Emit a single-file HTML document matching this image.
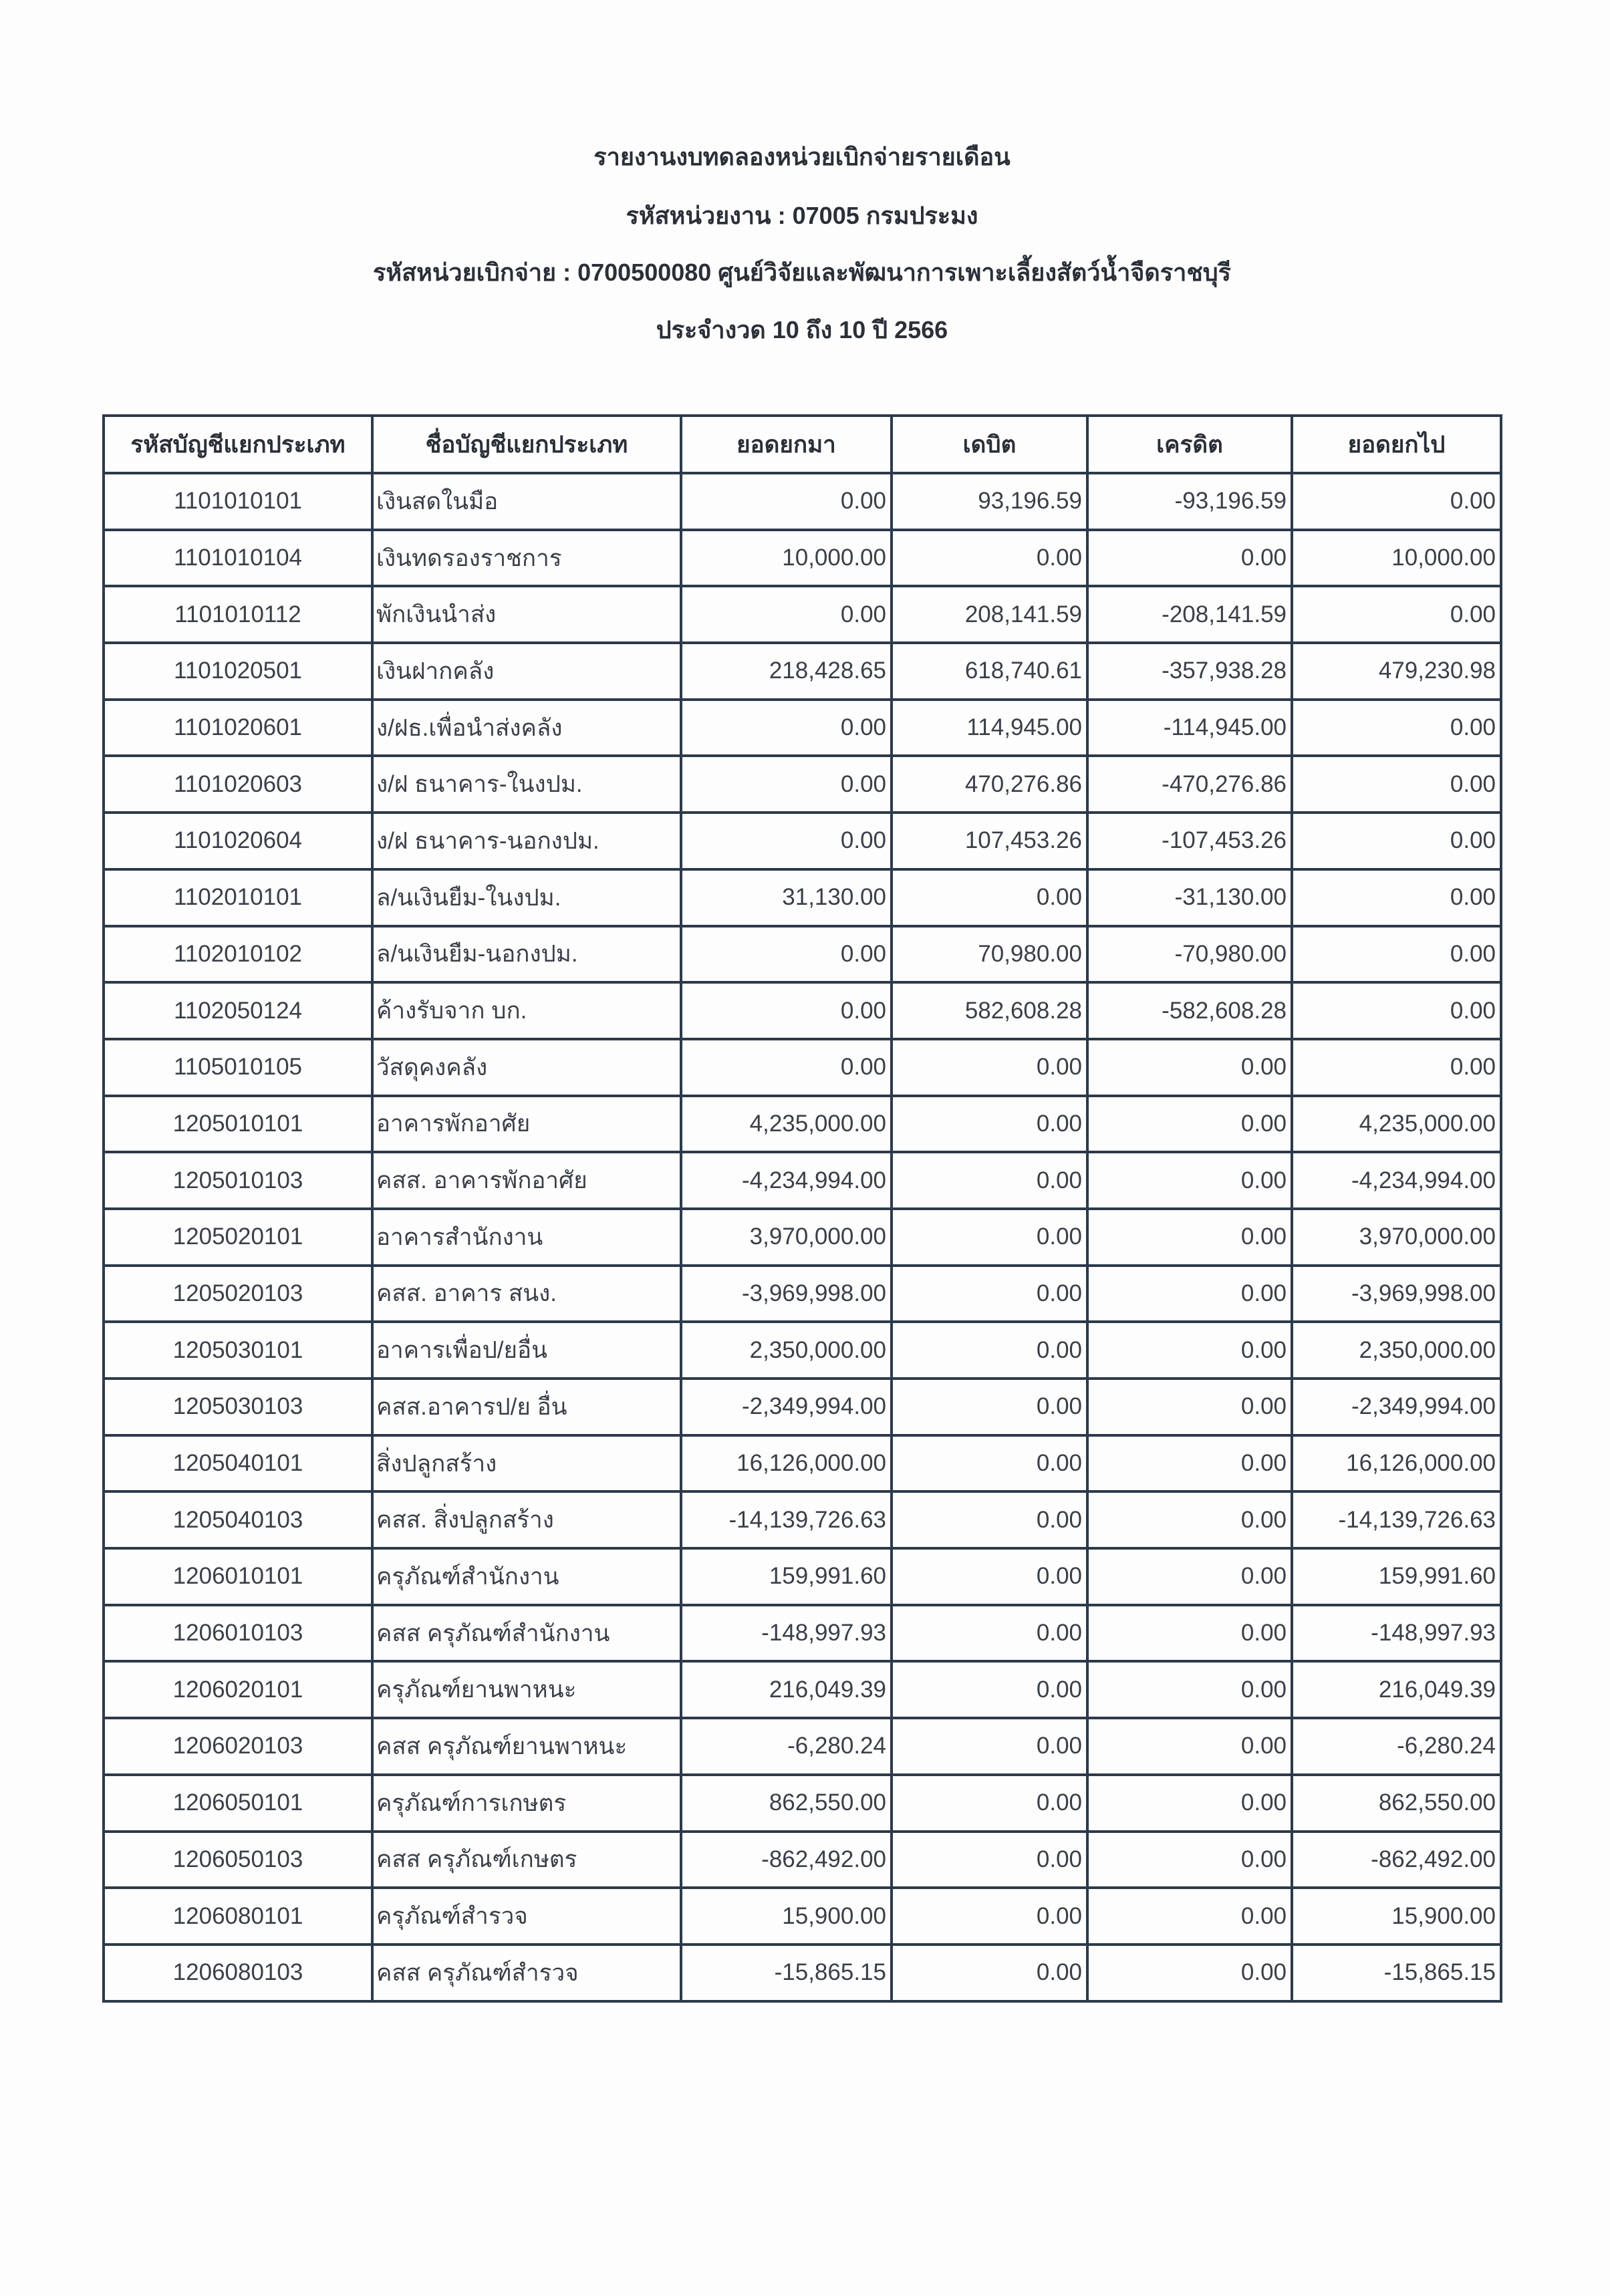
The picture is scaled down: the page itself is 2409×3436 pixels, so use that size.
<!DOCTYPE html>
<html><head><meta charset="utf-8"><style>
body{margin:0;background:#fdfdfd;width:2409px;height:3436px;position:relative;font-family:"Liberation Sans","DejaVu Sans",sans-serif;color:#3a3f48;}
.t{position:absolute;left:0;width:2400px;text-align:center;font-weight:bold;font-size:36px;color:#2a2f38;}
table{position:absolute;left:153px;top:620px;border-collapse:collapse;table-layout:fixed;}
td,th{border:4px solid #2d3a4a;height:80.7px;box-sizing:border-box;font-size:35px;padding:0 6px;white-space:nowrap;overflow:hidden;}
td{height:84.7px}
th{height:86px;font-weight:bold;color:#2a2f38;}
td.c{text-align:center}td.l{text-align:left;padding-left:4px}td.r{text-align:right}
</style></head><body>
<div class="t" style="top:206px">รายงานงบทดลองหน่วยเบิกจ่ายรายเดือน</div>
<div class="t" style="top:294px">รหัสหน่วยงาน : 07005 กรมประมง</div>
<div class="t" style="top:379px">รหัสหน่วยเบิกจ่าย : 0700500080 ศูนย์วิจัยและพัฒนาการเพาะเลี้ยงสัตว์น้ำจืดราชบุรี</div>
<div class="t" style="top:465px">ประจำงวด 10 ถึง 10 ปี 2566</div>
<table>
<colgroup><col style="width:402px"><col style="width:462px"><col style="width:315px"><col style="width:293px"><col style="width:306px"><col style="width:313px"></colgroup>
<tr><th>รหัสบัญชีแยกประเภท</th><th>ชื่อบัญชีแยกประเภท</th><th>ยอดยกมา</th><th>เดบิต</th><th>เครดิต</th><th>ยอดยกไป</th></tr>
<tr><td class="c">1101010101</td><td class="l">เงินสดในมือ</td><td class="r">0.00</td><td class="r">93,196.59</td><td class="r">-93,196.59</td><td class="r">0.00</td></tr>
<tr><td class="c">1101010104</td><td class="l">เงินทดรองราชการ</td><td class="r">10,000.00</td><td class="r">0.00</td><td class="r">0.00</td><td class="r">10,000.00</td></tr>
<tr><td class="c">1101010112</td><td class="l">พักเงินนำส่ง</td><td class="r">0.00</td><td class="r">208,141.59</td><td class="r">-208,141.59</td><td class="r">0.00</td></tr>
<tr><td class="c">1101020501</td><td class="l">เงินฝากคลัง</td><td class="r">218,428.65</td><td class="r">618,740.61</td><td class="r">-357,938.28</td><td class="r">479,230.98</td></tr>
<tr><td class="c">1101020601</td><td class="l">ง/ฝธ.เพื่อนำส่งคลัง</td><td class="r">0.00</td><td class="r">114,945.00</td><td class="r">-114,945.00</td><td class="r">0.00</td></tr>
<tr><td class="c">1101020603</td><td class="l">ง/ฝ ธนาคาร-ในงปม.</td><td class="r">0.00</td><td class="r">470,276.86</td><td class="r">-470,276.86</td><td class="r">0.00</td></tr>
<tr><td class="c">1101020604</td><td class="l">ง/ฝ ธนาคาร-นอกงปม.</td><td class="r">0.00</td><td class="r">107,453.26</td><td class="r">-107,453.26</td><td class="r">0.00</td></tr>
<tr><td class="c">1102010101</td><td class="l">ล/นเงินยืม-ในงปม.</td><td class="r">31,130.00</td><td class="r">0.00</td><td class="r">-31,130.00</td><td class="r">0.00</td></tr>
<tr><td class="c">1102010102</td><td class="l">ล/นเงินยืม-นอกงปม.</td><td class="r">0.00</td><td class="r">70,980.00</td><td class="r">-70,980.00</td><td class="r">0.00</td></tr>
<tr><td class="c">1102050124</td><td class="l">ค้างรับจาก บก.</td><td class="r">0.00</td><td class="r">582,608.28</td><td class="r">-582,608.28</td><td class="r">0.00</td></tr>
<tr><td class="c">1105010105</td><td class="l">วัสดุคงคลัง</td><td class="r">0.00</td><td class="r">0.00</td><td class="r">0.00</td><td class="r">0.00</td></tr>
<tr><td class="c">1205010101</td><td class="l">อาคารพักอาศัย</td><td class="r">4,235,000.00</td><td class="r">0.00</td><td class="r">0.00</td><td class="r">4,235,000.00</td></tr>
<tr><td class="c">1205010103</td><td class="l">คสส. อาคารพักอาศัย</td><td class="r">-4,234,994.00</td><td class="r">0.00</td><td class="r">0.00</td><td class="r">-4,234,994.00</td></tr>
<tr><td class="c">1205020101</td><td class="l">อาคารสำนักงาน</td><td class="r">3,970,000.00</td><td class="r">0.00</td><td class="r">0.00</td><td class="r">3,970,000.00</td></tr>
<tr><td class="c">1205020103</td><td class="l">คสส. อาคาร สนง.</td><td class="r">-3,969,998.00</td><td class="r">0.00</td><td class="r">0.00</td><td class="r">-3,969,998.00</td></tr>
<tr><td class="c">1205030101</td><td class="l">อาคารเพื่อป/ยอื่น</td><td class="r">2,350,000.00</td><td class="r">0.00</td><td class="r">0.00</td><td class="r">2,350,000.00</td></tr>
<tr><td class="c">1205030103</td><td class="l">คสส.อาคารป/ย อื่น</td><td class="r">-2,349,994.00</td><td class="r">0.00</td><td class="r">0.00</td><td class="r">-2,349,994.00</td></tr>
<tr><td class="c">1205040101</td><td class="l">สิ่งปลูกสร้าง</td><td class="r">16,126,000.00</td><td class="r">0.00</td><td class="r">0.00</td><td class="r">16,126,000.00</td></tr>
<tr><td class="c">1205040103</td><td class="l">คสส. สิ่งปลูกสร้าง</td><td class="r">-14,139,726.63</td><td class="r">0.00</td><td class="r">0.00</td><td class="r">-14,139,726.63</td></tr>
<tr><td class="c">1206010101</td><td class="l">ครุภัณฑ์สำนักงาน</td><td class="r">159,991.60</td><td class="r">0.00</td><td class="r">0.00</td><td class="r">159,991.60</td></tr>
<tr><td class="c">1206010103</td><td class="l">คสส ครุภัณฑ์สำนักงาน</td><td class="r">-148,997.93</td><td class="r">0.00</td><td class="r">0.00</td><td class="r">-148,997.93</td></tr>
<tr><td class="c">1206020101</td><td class="l">ครุภัณฑ์ยานพาหนะ</td><td class="r">216,049.39</td><td class="r">0.00</td><td class="r">0.00</td><td class="r">216,049.39</td></tr>
<tr><td class="c">1206020103</td><td class="l">คสส ครุภัณฑ์ยานพาหนะ</td><td class="r">-6,280.24</td><td class="r">0.00</td><td class="r">0.00</td><td class="r">-6,280.24</td></tr>
<tr><td class="c">1206050101</td><td class="l">ครุภัณฑ์การเกษตร</td><td class="r">862,550.00</td><td class="r">0.00</td><td class="r">0.00</td><td class="r">862,550.00</td></tr>
<tr><td class="c">1206050103</td><td class="l">คสส ครุภัณฑ์เกษตร</td><td class="r">-862,492.00</td><td class="r">0.00</td><td class="r">0.00</td><td class="r">-862,492.00</td></tr>
<tr><td class="c">1206080101</td><td class="l">ครุภัณฑ์สำรวจ</td><td class="r">15,900.00</td><td class="r">0.00</td><td class="r">0.00</td><td class="r">15,900.00</td></tr>
<tr><td class="c">1206080103</td><td class="l">คสส ครุภัณฑ์สำรวจ</td><td class="r">-15,865.15</td><td class="r">0.00</td><td class="r">0.00</td><td class="r">-15,865.15</td></tr>
</table>
</body></html>
